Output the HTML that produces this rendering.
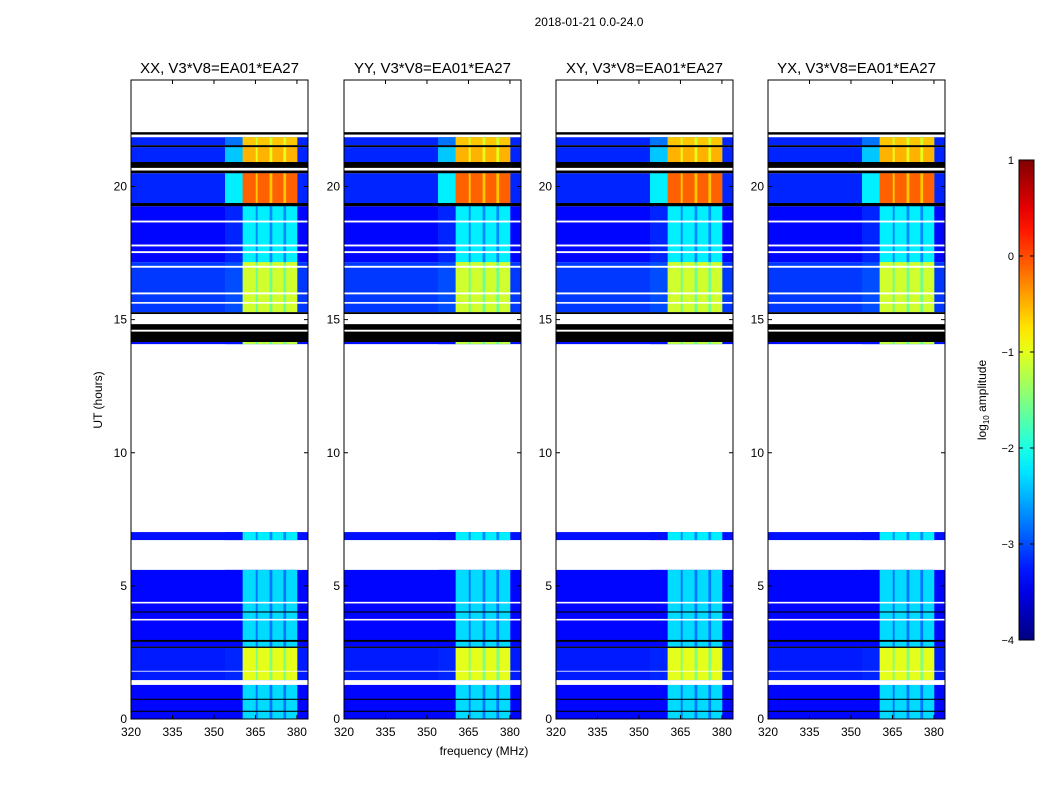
<!DOCTYPE html>
<html><head><meta charset="utf-8"><style>
body{margin:0;background:#fff;width:1050px;height:800px;overflow:hidden}
svg text{font-family:"Liberation Sans",sans-serif;fill:#000}
</style></head><body>
<svg id="c" width="1050" height="800" xmlns="http://www.w3.org/2000/svg"></svg>
<script>
// ---- data ----
const panelTitles=["XX, V3*V8=EA01*EA27","YY, V3*V8=EA01*EA27","XY, V3*V8=EA01*EA27","YX, V3*V8=EA01*EA27"];
const freqTicks=[320,335,350,365,380];
const hourTicks=[0,5,10,15,20];
const cbTicks=[1,0,-1,-2,-3,-4];
// sub-band frequency ranges (MHz)
const bandLo=[360.4,365.8,371.1,376.1];
const bandHi=[365.1,370.1,375.1,380.1];
// data segments: start hour, end hour, background log amp, band log amp, halo log amp
const segStart=[21.55,20.92,19.38,17.16,15.28,14.08,6.72,2.72,1.46,0.00];
const segEnd  =[21.85,21.48,20.50,19.26,17.16,14.16,7.02,5.60,2.67,1.46];
const segBg   =[-3.2,-3.2,-3.2,-3.35,-3.1,-3.3,-3.3,-3.35,-3.25,-3.35];
const segBand =[-0.6,-0.5,-0.1,-2.2,-1.1,-1.2,-2.2,-2.3,-1.0,-2.3];
const segHalo =[-2.8,-2.4,-2.2,-3.2,-3.0,-3.3,-3.3,-3.35,-3.2,-3.35];
// flagged (black) rows
const blackStart=[21.95,21.48,20.70,20.50,19.26,15.21,14.62,14.16,2.90,2.67,4.00,0.72,0.27];
const blackEnd  =[22.04,21.55,20.92,20.60,19.38,15.28,14.83,14.55,2.97,2.72,4.04,0.76,0.31];
// white (empty) rows
const whiteStart=[18.65,17.75,17.50,16.95,15.95,15.60,4.34,3.70,1.78,1.28];
const whiteEnd  =[18.72,17.82,17.57,17.02,16.02,15.66,4.40,3.76,1.81,1.46];

const NS="http://www.w3.org/2000/svg";
const svg=document.getElementById('c');
function el(t,a,p){const e=document.createElementNS(NS,t);for(const k in a)e.setAttribute(k,a[k]);(p||svg).appendChild(e);return e;}
function jet(v){let t=(v+4)/5;t=Math.max(0,Math.min(1,t));
 const f=x=>Math.round(255*Math.max(0,Math.min(1,1.5-Math.abs(4*t-x))));
 return `rgb(${f(3)},${f(2)},${f(1)})`;}
const panelX=[131,344,556,768], PW=177, Y0=719, Y1=80;
const yS=h=>Y0-(h/24)*(Y0-Y1);
const fMin=320,fMax=384;

panelX.forEach((px,pi)=>{
 const xS=f=>px+(f-fMin)/(fMax-fMin)*PW;
 const g=el('g',{});
 
 
 segStart.forEach((s,i)=>{
  const y=yS(segEnd[i]),h=yS(s)-y;
  const r=el('rect',{x:px,y:y,width:PW,height:h,fill:jet(segBg[i])},g);
  
  
  el('rect',{x:xS(354),y:y,width:xS(360.4)-xS(354),height:h,fill:jet(segHalo[i])},g);
  el('rect',{x:xS(360.4),y:y,width:xS(380.1)-xS(360.4),height:h,fill:jet(segBand[i]-0.5)},g);
  bandLo.forEach((b,j)=>{
   const rb=el('rect',{x:xS(b),y:y,width:xS(bandHi[j])-xS(b),height:h,fill:jet(segBand[i])},g);
   
   
  });
 });
 blackStart.forEach((s,i)=>{const r=el('rect',{x:px,y:yS(blackEnd[i]),width:PW,height:yS(s)-yS(blackEnd[i]),fill:'#000'},g);
  });
 whiteStart.forEach((s,i)=>{el('rect',{x:px,y:yS(whiteEnd[i]),width:PW,height:yS(s)-yS(whiteEnd[i]),fill:'#fff'},g);});
 const fr=el('rect',{x:px,y:Y1,width:PW,height:Y0-Y1,fill:'none',stroke:'#000','stroke-width':1},g);
 
 freqTicks.forEach(f=>{const x=xS(f);
  el('line',{x1:x,x2:x,y1:Y0,y2:Y0-4,stroke:'#000'},g);el('line',{x1:x,x2:x,y1:Y1,y2:Y1+4,stroke:'#000'},g);
  const t=el('text',{x:x,y:Y0+17,'font-size':12,'text-anchor':'middle'},g);t.textContent=f;
  });
 hourTicks.forEach(h=>{const y=yS(h);
  el('line',{x1:px,x2:px+4,y1:y,y2:y,stroke:'#000'},g);el('line',{x1:px+PW,x2:px+PW-4,y1:y,y2:y,stroke:'#000'},g);
  const t=el('text',{x:px-4,y:y+4,'font-size':12,'text-anchor':'end'},g);t.textContent=h;
  });
 const tt=el('text',{x:px+PW/2,y:73,'font-size':15,'text-anchor':'middle'},g);tt.textContent=panelTitles[pi];
 
});
let t=el('text',{x:589,y:26,'font-size':12,'text-anchor':'middle'});t.textContent='2018-01-21 0.0-24.0';

t=el('text',{x:484,y:755,'font-size':12,'text-anchor':'middle'});t.textContent='frequency (MHz)';

t=el('text',{x:102,y:400,'font-size':12,'text-anchor':'middle',transform:'rotate(-90 102 400)'});t.textContent='UT (hours)';

const cbX=1019,cbW=15,cbT=160,cbB=640;
const grad=el('linearGradient',{id:'jg',x1:0,y1:1,x2:0,y2:0},el('defs',{}));
for(let i=0;i<=20;i++){el('stop',{offset:i/20,'stop-color':jet(-4+5*i/20)},grad);}
const cb=el('rect',{x:cbX,y:cbT,width:cbW,height:cbB-cbT,fill:'url(#jg)',stroke:'#000'});

cbTicks.forEach(v=>{const y=cbB-(v+4)/5*(cbB-cbT);
 el('line',{x1:cbX,x2:cbX+4,y1:y,y2:y,stroke:'#000'});el('line',{x1:cbX+cbW,x2:cbX+cbW-4,y1:y,y2:y,stroke:'#000'});
 const l=el('text',{x:1014,y:y+4,'font-size':11,'text-anchor':'end'});l.textContent=(v<0?'\u2212'+(-v):v);
 });
t=el('text',{x:986,y:400,'font-size':12,'text-anchor':'middle',transform:'rotate(-90 986 400)'});
t.innerHTML='log<tspan font-size="8" dy="3">10</tspan><tspan dy="-3"> amplitude</tspan>';

</script>
</body></html>
